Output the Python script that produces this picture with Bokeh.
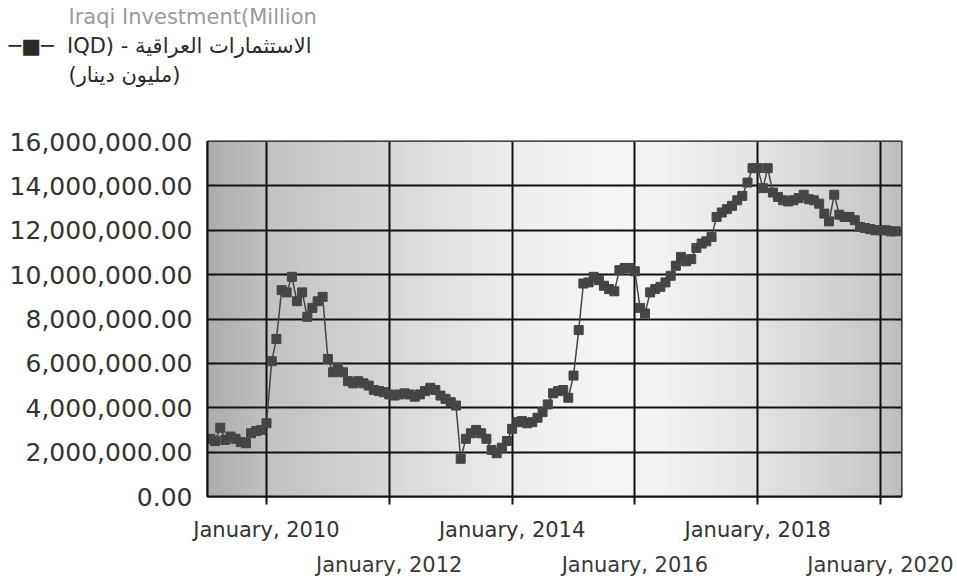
import numpy as np
import pandas as pd
from bokeh.plotting import figure
from bokeh.models import (Range1d, FixedTicker, NumeralTickFormatter, Title,
                          CustomJSTickFormatter, DatetimeAxis, ColumnDataSource)
from bokeh.embed import file_html
from bokeh.resources import INLINE

# ---------------- data (million IQD, monthly) ----------------
START_MONTH = "2009-02-01"
values_2009 = [2.6, 2.5, 3.1, 2.55, 2.7, 2.6, 2.45, 2.4, 2.85, 2.95, 3.0]
values_2010 = [3.3, 6.1, 7.1, 9.3, 9.2, 9.9, 8.8, 9.2, 8.1, 8.5, 8.8, 9.0]
values_2011 = [6.2, 5.6, 5.8, 5.6, 5.2, 5.1, 5.2, 5.1, 5.0, 4.8, 4.75, 4.7]
values_2012 = [4.6, 4.55, 4.6, 4.65, 4.6, 4.5, 4.6, 4.75, 4.9, 4.8, 4.55, 4.4]
values_2013 = [4.25, 4.1, 1.7, 2.6, 2.85, 3.0, 2.85, 2.6, 2.1, 1.95, 2.2, 2.5]
values_2014 = [3.05, 3.35, 3.4, 3.3, 3.35, 3.55, 3.8, 4.15, 4.65, 4.75, 4.8, 4.45]
values_2015 = [5.45, 7.5, 9.6, 9.65, 9.9, 9.75, 9.5, 9.35, 9.25, 10.2, 10.3, 10.3]
values_2016 = [10.15, 8.5, 8.25, 9.2, 9.35, 9.45, 9.65, 9.95, 10.4, 10.8, 10.6, 10.7]
values_2017 = [11.2, 11.4, 11.5, 11.7, 12.6, 12.8, 12.95, 13.1, 13.35, 13.55, 14.15, 14.8]
values_2018 = [14.8, 13.9, 14.8, 13.7, 13.5, 13.35, 13.3, 13.35, 13.45, 13.6, 13.4, 13.35]
values_2019 = [13.2, 12.75, 12.4, 13.6, 12.7, 12.6, 12.6, 12.45, 12.15, 12.1, 12.05, 12.0]
values_2020 = [12.0, 12.0, 11.95, 11.95]

legend_lines = ["Iraqi Investment(Million",
                "IQD) - الاستثمارات العراقية",
                "(مليون دينار)"]
legend_symbol = "─■─\u00a0\u00a0"
tick_years = [2010, 2012, 2014, 2016, 2018, 2020]
y_ticks = [0, 2e6, 4e6, 6e6, 8e6, 10e6, 12e6, 14e6, 16e6]

all_values = (values_2009 + values_2010 + values_2011 + values_2012 + values_2013 +
              values_2014 + values_2015 + values_2016 + values_2017 + values_2018 +
              values_2019 + values_2020)
vals = np.array(all_values) * 1e6
dates = pd.date_range(START_MONTH, periods=len(vals), freq="MS")
src = ColumnDataSource(dict(date=dates, value=vals))


def ms(ts):
    return pd.Timestamp(ts).value / 1e6


tick_ms = [ms(f"{y}-01-01") for y in tick_years]
t10, t20 = tick_ms[0], tick_ms[-1]
span = t20 - t10
x_start = t10 - 59 / 614 * span
x_end = t20 + 21 / 614 * span

FONT = "DejaVu Sans"
W, H = 957, 581
SERIES = "#454545"

p = figure(width=W, height=H, x_axis_type="datetime",
           x_range=Range1d(x_start, x_end), y_range=Range1d(0, 16e6),
           toolbar_location=None, output_backend="svg",
           min_border_left=207, min_border_right=W - 901,
           min_border_top=141, min_border_bottom=H - 496)

# gradient background
stops_f = [0.0, 0.085, 0.262, 0.44, 0.58, 0.66, 0.793, 0.97, 1.0]
stops_g = [0xac, 0xc2, 0xd8, 0xed, 0xf6, 0xf2, 0xe4, 0xc8, 0xbc]
N = 700
g = np.interp(np.linspace(0, 1, N), stops_f, stops_g).astype(np.uint8)
img = np.zeros((2, N), dtype=np.uint32)
view = img.view(dtype=np.uint8).reshape((2, N, 4))
view[:, :, 0] = g
view[:, :, 1] = g
view[:, :, 2] = g
view[:, :, 3] = 255
p.image_rgba(image=[img], x=x_start, y=0, dw=x_end - x_start, dh=16e6, level="image")

p.outline_line_color = "#111111"
p.outline_line_width = 2

p.xgrid.ticker = FixedTicker(ticks=tick_ms)
p.ygrid.ticker = FixedTicker(ticks=y_ticks)
p.grid.grid_line_color = "#111111"
p.grid.grid_line_width = 2

# y axis
p.yaxis.ticker = FixedTicker(ticks=y_ticks)
p.yaxis.formatter = NumeralTickFormatter(format="0,0.00")
p.yaxis.major_label_text_font = FONT
p.yaxis.major_label_text_font_size = "25px"
p.yaxis.major_label_text_color = "#333333"
p.yaxis.major_tick_out = 0
p.yaxis.major_tick_in = 0
p.yaxis.minor_tick_line_color = None
p.yaxis.axis_line_color = "#111111"
p.yaxis.axis_line_width = 2
p.yaxis.major_label_standoff = 15

# x axis (first row of labels)
xa = p.xaxis[0]
xa.ticker = FixedTicker(ticks=tick_ms)
xa.formatter = CustomJSTickFormatter(code="""
const y = new Date(tick).getUTCFullYear();
return ((y - 2010) % 4 == 0) ? 'January, ' + y : '';
""")
xa.major_label_text_font = FONT
xa.major_label_text_font_size = "21px"
xa.major_label_text_color = "#333333"
xa.major_tick_out = 8
xa.major_tick_in = 0
xa.major_tick_line_color = "#111111"
xa.major_tick_line_width = 2
xa.minor_tick_line_color = None
xa.axis_line_color = "#111111"
xa.axis_line_width = 2
xa.major_label_standoff = 13

# second row of labels
xb = DatetimeAxis(ticker=FixedTicker(ticks=tick_ms),
                  formatter=CustomJSTickFormatter(code="""
const y = new Date(tick).getUTCFullYear();
return ((y - 2010) % 4 == 2) ? 'January, ' + y : '';
"""),
                  major_label_text_font=FONT, major_label_text_font_size="21px",
                  major_label_text_color="#3a3a3a",
                  major_tick_line_color=None, minor_tick_line_color=None,
                  axis_line_color=None, major_label_standoff=2)
p.add_layout(xb, "below")

# series
p.line(x="date", y="value", source=src, line_color=SERIES, line_width=1.5)
p.scatter(x="date", y="value", source=src, marker="square", size=9,
          fill_color=SERIES, line_color=SERIES)

# legend block as stacked titles in the top panel (nearest the frame first);
# the first entry is an empty spacer that keeps the block near the top
rows = [("\u00a0", "#ffffff", 0, 27),
        (legend_lines[2], "#2a2a2a", -139, 3),
        (legend_symbol + legend_lines[1], "#2a2a2a", -199, 3),
        (legend_lines[0], "#9a9a9a", -139, 3)]
for txt, col, off, so in rows:
    p.add_layout(Title(text=txt, align="left", offset=off, text_color=col,
                       text_font=FONT, text_font_size="21px", text_font_style="normal",
                       standoff=so), "above")

open("out.html", "w").write(file_html(p, INLINE))
